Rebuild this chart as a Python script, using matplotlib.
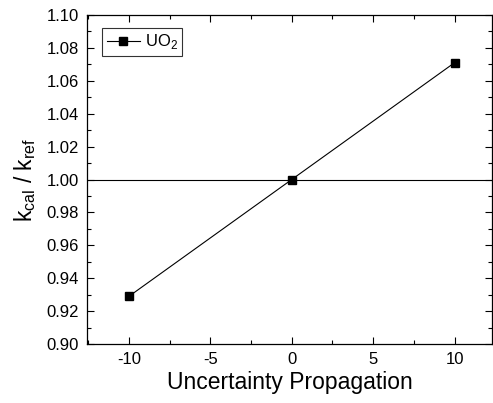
import matplotlib

matplotlib.use("Agg")
import matplotlib.pyplot as plt
from matplotlib.ticker import MultipleLocator

# values
perturbation = [-10, 0, 10]
k_ratio = [0.929, 1.000, 1.071]
xticks = [-10, -5, 0, 5, 10]
yticks = [0.90, 0.92, 0.94, 0.96, 0.98, 1.00, 1.02, 1.04, 1.06, 1.08, 1.10]

plt.rcParams["font.family"] = ["Liberation Sans", "DejaVu Sans"]
plt.rcParams["axes.unicode_minus"] = False
plt.rcParams["mathtext.fontset"] = "custom"
plt.rcParams["mathtext.rm"] = "Liberation Sans"

fig = plt.figure(figsize=(4.93, 4.03), dpi=100)
ax = fig.add_axes([87 / 493, 1 - 344 / 403, (492 - 87) / 493, (344 - 15) / 403])

ax.axhline(1.0, color="black", lw=0.8)
ax.plot(perturbation, k_ratio, color="black", lw=0.8, marker="s", ms=5.5, label="UO$_\\mathrm{2}$")

ax.set_xlim(-12.58, 12.3)
ax.set_ylim(0.90, 1.10)
ax.set_xticks(xticks)
ax.set_yticks(yticks)
ax.set_yticklabels([f"{v:.2f}" for v in yticks])
ax.xaxis.set_minor_locator(MultipleLocator(2.5))
ax.yaxis.set_minor_locator(MultipleLocator(0.01))
ax.tick_params(which="both", direction="in", top=True, right=True, labelsize=12, pad=6)
ax.tick_params(which="major", length=5, width=0.8)
ax.tick_params(which="minor", length=3, width=0.8)
for s in ax.spines.values():
    s.set_linewidth(0.9)

ax.set_xlabel("Uncertainty Propagation", fontsize=16.5, labelpad=3)
ax.set_ylabel("k$_\\mathrm{cal}$ / k$_\\mathrm{ref}$", fontsize=16.5, labelpad=6)

leg = ax.legend(loc="upper left", fontsize=12, frameon=True, fancybox=False,
                edgecolor="black", handlelength=2.0, handletextpad=0.3,
                borderpad=0.25, borderaxespad=0.2,
                bbox_to_anchor=(0.03, 0.97))
leg.get_frame().set_linewidth(0.8)

fig.savefig("out.png", dpi=100)
